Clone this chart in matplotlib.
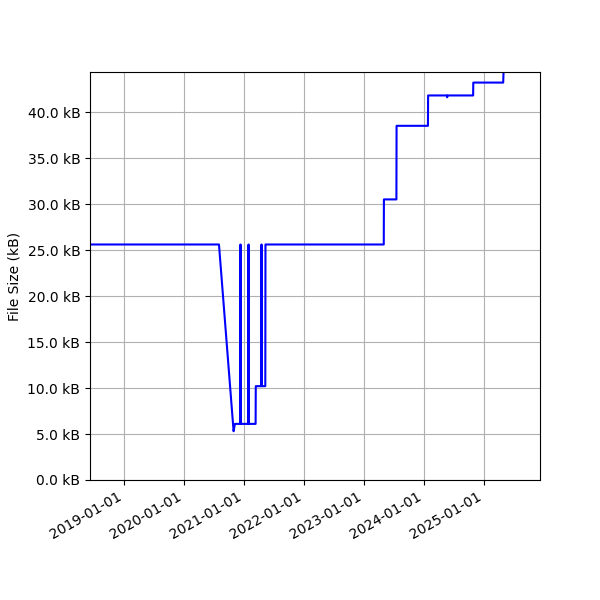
import datetime as dt
import matplotlib
matplotlib.use("Agg")
import matplotlib.pyplot as plt
import matplotlib.dates as mdates
from matplotlib.ticker import FuncFormatter, MultipleLocator

# file size history (date, kB)
dates = [
    "2018-06-01", "2020-08-01", "2020-10-29", "2020-11-06",
    "2020-12-09", "2020-12-10", "2020-12-11",
    "2021-01-27", "2021-01-28", "2021-01-29",
    "2021-03-12", "2021-03-13",
    "2021-04-16", "2021-04-17", "2021-04-18",
    "2021-05-10", "2021-05-11",
    "2023-05-01", "2023-05-02",
    "2023-07-17", "2023-07-18",
    "2024-01-25", "2024-01-26",
    "2024-05-19", "2024-05-21", "2024-05-23",
    "2024-10-26", "2024-10-27",
    "2025-04-27", "2025-05-02",
]
sizes = [
    25.6, 25.6, 5.3, 6.1,
    6.1, 25.6, 6.1,
    6.1, 25.6, 6.1,
    6.1, 10.2,
    10.2, 25.6, 10.2,
    10.2, 25.6,
    25.6, 30.5,
    30.5, 38.5,
    38.5, 41.8,
    41.8, 41.6, 41.8,
    41.8, 43.2,
    43.2, 46.0,
]

x = [dt.datetime.strptime(d, "%Y-%m-%d") for d in dates]

fig, ax = plt.subplots(figsize=(6, 6), dpi=100)
ax.plot(x, sizes, color="blue")

ax.set_xlim(dt.datetime(2018, 6, 8), dt.datetime(2025, 12, 7))
ax.set_ylim(0, 44.35)
ax.yaxis.set_major_locator(MultipleLocator(5))
ax.yaxis.set_major_formatter(FuncFormatter(lambda v, p: "{:.1f} kB".format(v)))
ax.xaxis.set_major_locator(mdates.YearLocator())
ax.xaxis.set_major_formatter(mdates.DateFormatter("%Y-%m-%d"))
ax.set_ylabel("File Size (kB)")
ax.grid(True, color="#b0b0b0")

fig.autofmt_xdate()
fig.subplots_adjust(left=0.15, right=0.9, top=0.88, bottom=0.2)
fig.savefig("out.png")
